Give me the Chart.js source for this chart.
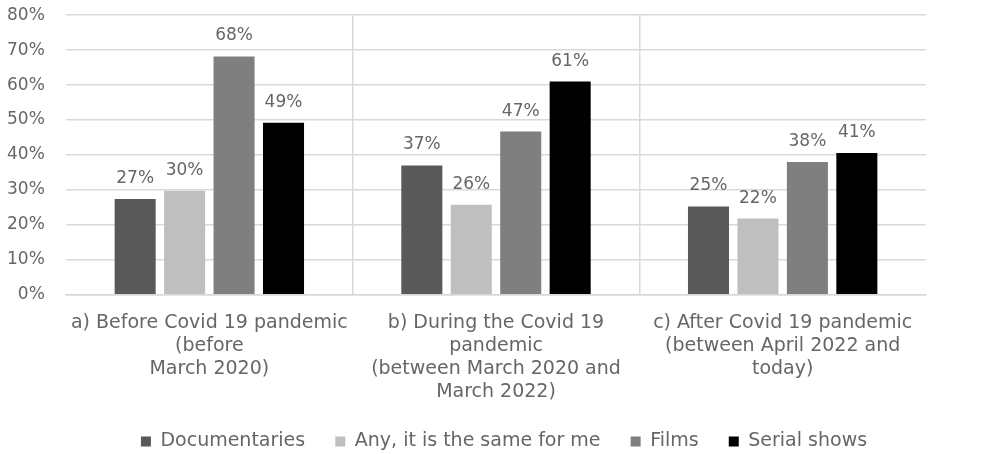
<!DOCTYPE html>
<html>
<head>
<meta charset="utf-8">
<script src="https://cdn.jsdelivr.net/npm/chart.js@4.4.1/dist/chart.umd.min.js"></script>
<style>
  html, body { margin: 0; padding: 0; background: #fff; }
  #wrap { width: 1006px; height: 454px; }
</style>
</head>
<body>
<div id="wrap"><canvas id="mediaChart"></canvas></div>
<script>
// categories (multi-line labels) and series values in percent
var periods = [
    ['a) Before Covid 19 pandemic', '(before', 'March 2020)'],
    ['b) During the Covid 19', 'pandemic', '(between March 2020 and', 'March 2022)'],
    ['c) After Covid 19 pandemic', '(between April 2022 and', 'today)']
];
var documentaries = [27.4, 37.0, 25.3];
var anySame = [29.8, 25.8, 21.8];
var films = [68.2, 46.7, 38.0];
var serialShows = [49.2, 61.0, 40.6];
var yTicks = [0, 10, 20, 30, 40, 50, 60, 70, 80];

var textGrey = '#666666';
var fontFam = '"DejaVu Sans", sans-serif';

// draws the "27%" style labels above each bar
var valueLabels = {
    id: 'valueLabels',
    afterDatasetsDraw: function(chart) {
        var ctx = chart.ctx;
        ctx.save();
        ctx.font = '17px ' + fontFam;
        ctx.fillStyle = textGrey;
        ctx.textAlign = 'center';
        ctx.textBaseline = 'bottom';
        chart.data.datasets.forEach(function(ds, i) {
            var meta = chart.getDatasetMeta(i);
            meta.data.forEach(function(bar, j) {
                ctx.fillText(Math.round(ds.data[j]) + '%', bar.x, bar.y - 12);
            });
        });
        ctx.restore();
    }
};

const ctx1 = document.getElementById('mediaChart');
var mediaChart = new Chart(ctx1, {
    type: 'bar',
    data: {
        labels: periods,
        datasets: [
            { label: 'Documentaries', data: documentaries, backgroundColor: '#595959' },
            { label: 'Any, it is the same for me', data: anySame, backgroundColor: '#bfbfbf' },
            { label: 'Films', data: films, backgroundColor: '#7f7f7f' },
            { label: 'Serial shows', data: serialShows, backgroundColor: '#000000' }
        ]
    },
    plugins: [valueLabels],
    options: {
        responsive: true,
        maintainAspectRatio: false,
        animation: false,
        layout: { padding: { top: 0, right: 0, left: 2, bottom: -7 } },
        datasets: {
            bar: { categoryPercentage: 0.69, barPercentage: 0.83 }
        },
        scales: {
            x: {
                grid: {
                    // only the separators between the three periods
                    color: function(c) {
                        return (c.type !== 'tick' || c.index === 0) ? 'rgba(0,0,0,0)' : '#d9d9d9';
                    },
                    lineWidth: 1.5,
                    drawTicks: false
                },
                border: { display: true, color: '#d9d9d9', width: 1.5 },
                ticks: {
                    color: textGrey,
                    font: { family: fontFam, size: 19, lineHeight: 1.2 },
                    maxRotation: 0,
                    autoSkip: false,
                    padding: 17
                }
            },
            y: {
                min: 0,
                max: 80,
                afterBuildTicks: function(axis) {
                    axis.ticks = yTicks.map(function(v) { return { value: v }; });
                },
                grid: { color: '#d9d9d9', lineWidth: 1.5, drawTicks: false },
                border: { display: false },
                ticks: {
                    color: textGrey,
                    font: { family: fontFam, size: 17 },
                    padding: 5,
                    // trailing spaces keep the gap to the plot without pushing the top down
                    callback: function(v) { return v + '%   '; }
                }
            },
            // empty right-hand axis, only to leave blank room beside the plot
            yRight: {
                position: 'right',
                grid: { drawOnChartArea: false, drawTicks: false },
                border: { display: false },
                ticks: { display: false },
                afterFit: function(axis) { axis.width = 80; }
            }
        },
        plugins: {
            legend: {
                position: 'bottom',
                labels: {
                    color: textGrey,
                    font: { family: fontFam, size: 19 },
                    boxWidth: 10,
                    boxHeight: 10,
                    padding: 12,
                    generateLabels: function(chart) {
                        var items = Chart.defaults.plugins.legend.labels.generateLabels(chart);
                        items.forEach(function(it, i) {
                            if (i < items.length - 1) it.text = it.text + '   ';
                        });
                        return items;
                    }
                }
            },
            tooltip: { enabled: false }
        }
    }
});
</script>
</body>
</html>
